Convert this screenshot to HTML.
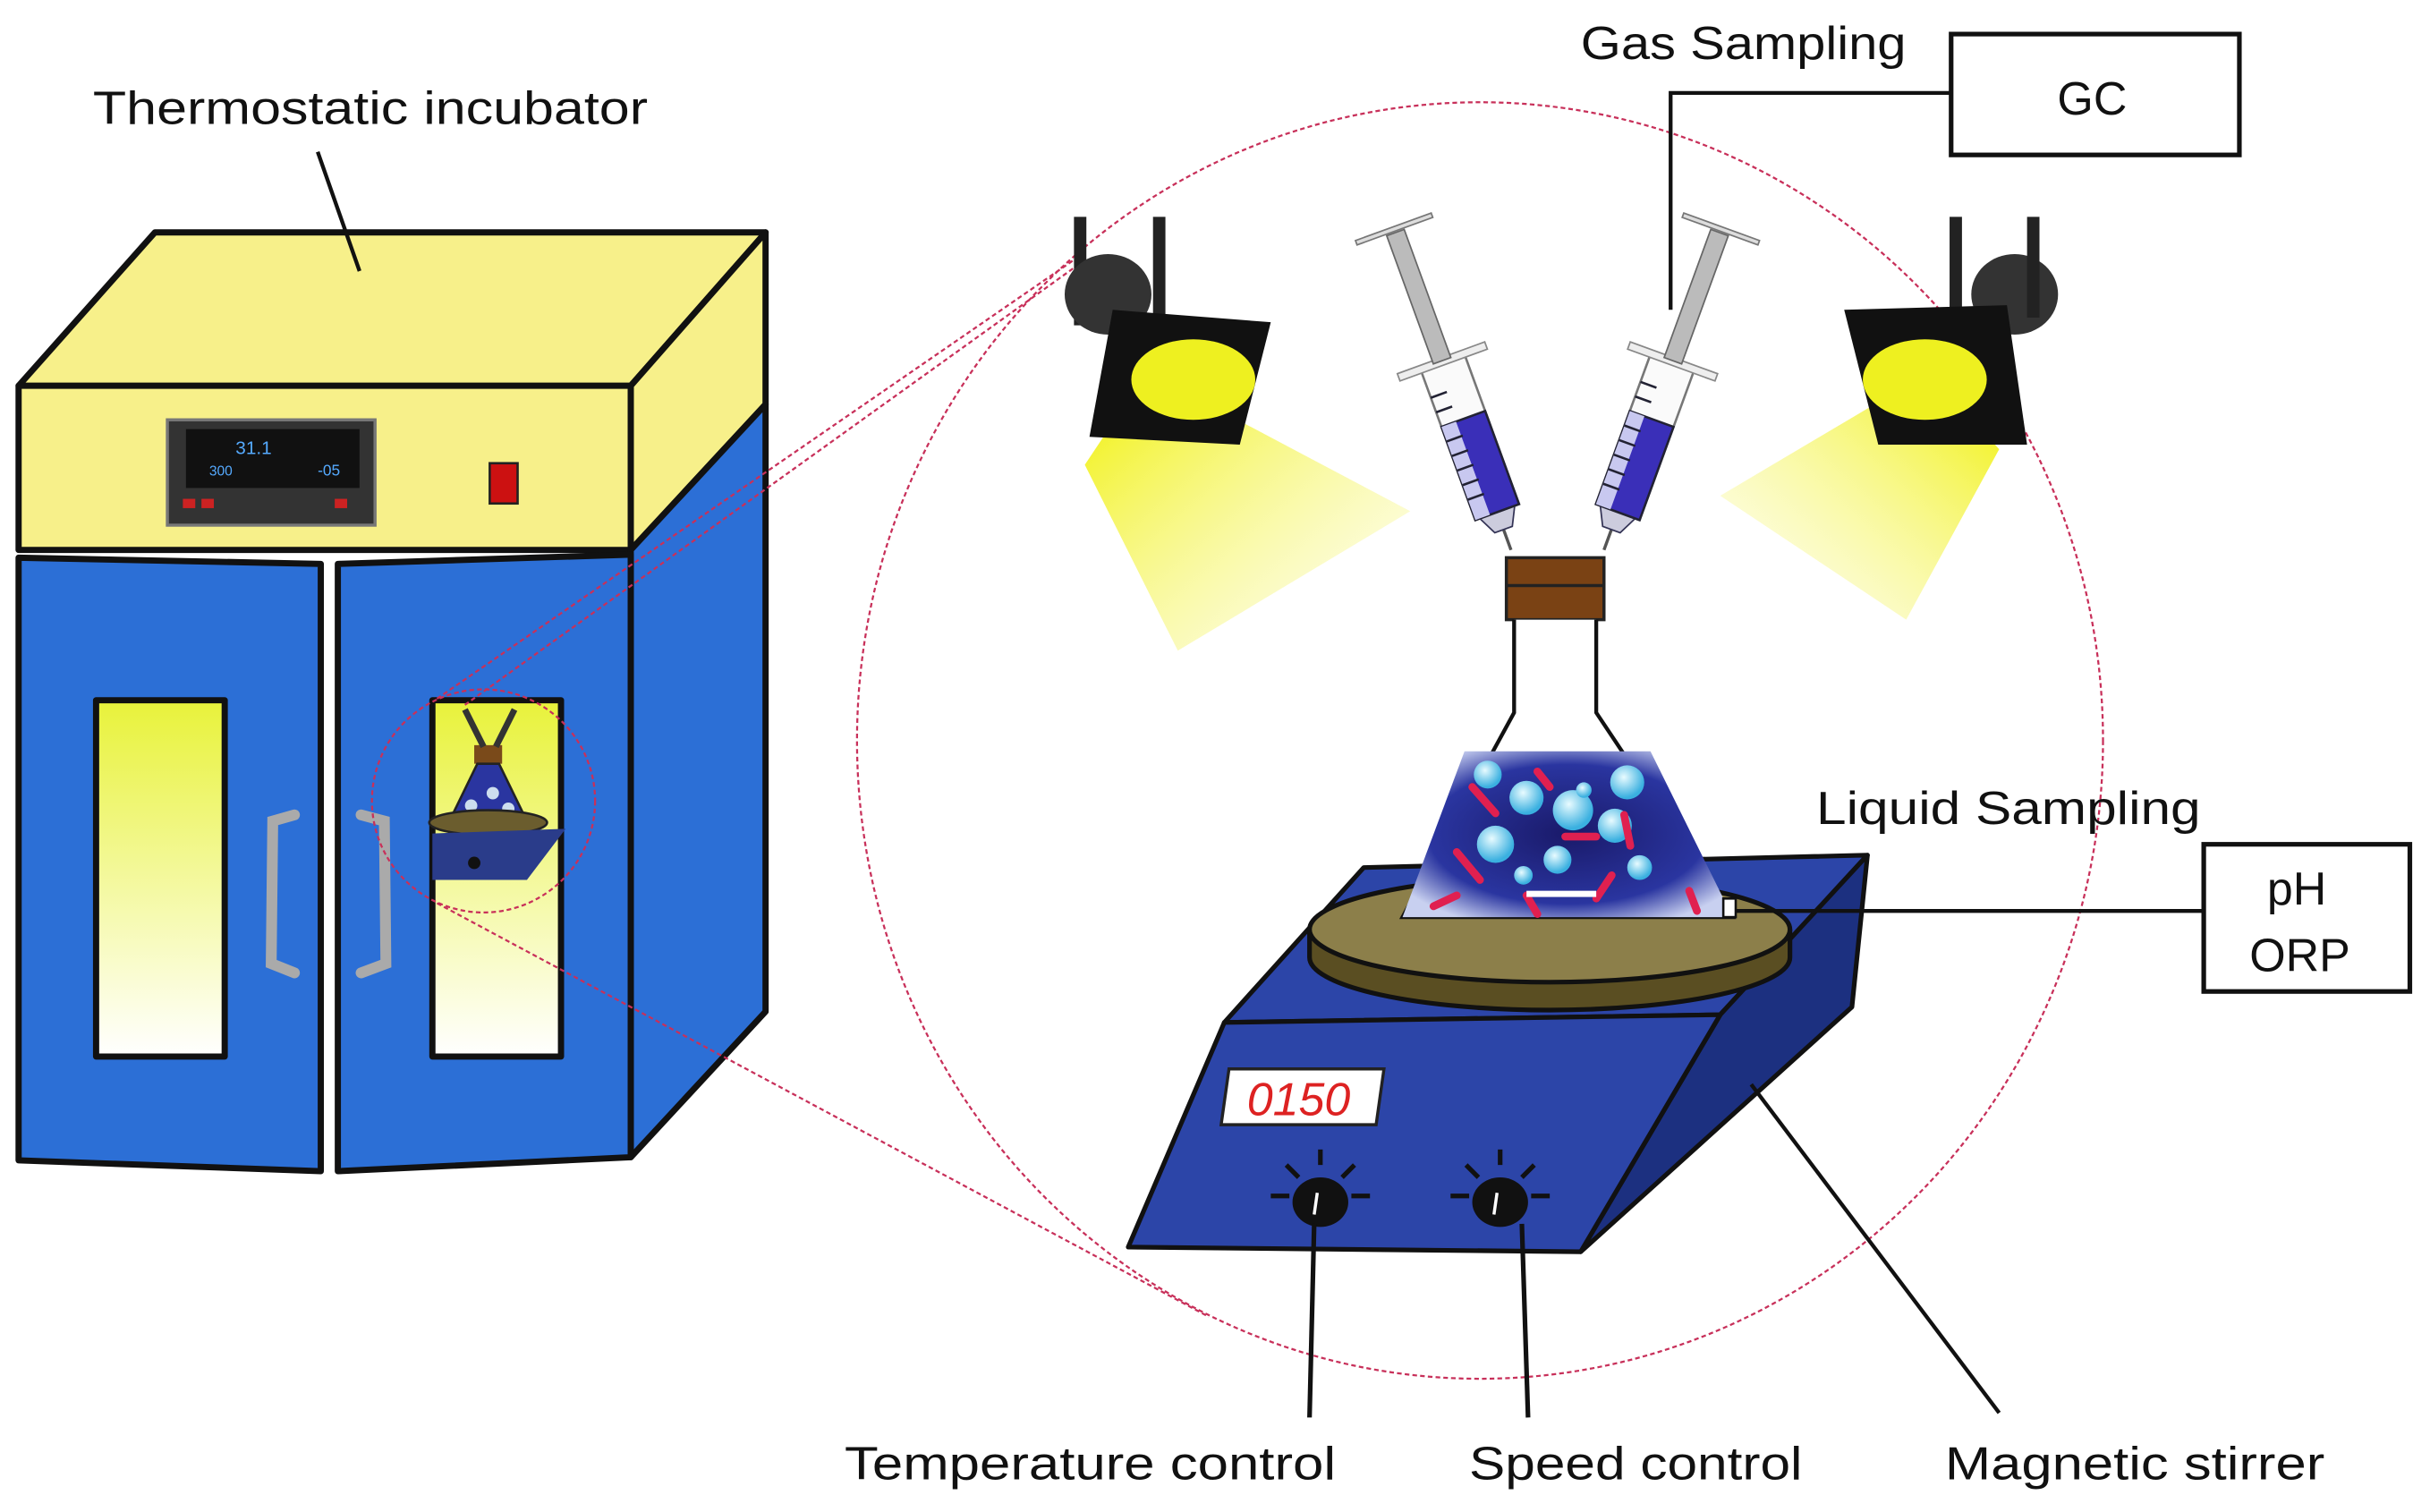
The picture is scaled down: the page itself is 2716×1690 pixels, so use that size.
<!DOCTYPE html>
<html><head><meta charset="utf-8"><style>
html,body{margin:0;padding:0;background:#fff;}
svg{display:block;}
text{font-family:"Liberation Sans","DejaVu Sans",sans-serif;fill:#111;}
</style></head><body>
<svg width="2716" height="1690" viewBox="0 0 1568 976" preserveAspectRatio="none" xmlns="http://www.w3.org/2000/svg">
<defs>
<linearGradient id="win" x1="0" y1="0" x2="0" y2="1"><stop offset="0" stop-color="#e8f23a"/><stop offset="1" stop-color="#ffffff"/></linearGradient>
<linearGradient id="beamL" x1="0" y1="0" x2="1" y2="1"><stop offset="0" stop-color="#f0f000"/><stop offset="1" stop-color="#fbfbd0" stop-opacity="0.3"/></linearGradient>
<linearGradient id="beamR" x1="1" y1="0" x2="0" y2="1"><stop offset="0" stop-color="#f0f000"/><stop offset="1" stop-color="#fbfbd0" stop-opacity="0.3"/></linearGradient>
<radialGradient id="liq" cx="0.5" cy="0.5" r="0.6"><stop offset="0" stop-color="#1a1a6a"/><stop offset="0.7" stop-color="#2a35a0"/><stop offset="1" stop-color="#c8d0f0"/></radialGradient>
<radialGradient id="bub" cx="0.4" cy="0.35" r="0.6"><stop offset="0" stop-color="#e8fbff"/><stop offset="1" stop-color="#3ab0e0"/></radialGradient>
<g id="syr">
<line x1="0" y1="0" x2="0" y2="-14" stroke="#555" stroke-width="2"/>
<path d="M-6,-14 L6,-14 L12,-26 L-12,-26 Z" fill="#ccd" stroke="#335" stroke-width="1"/>
<rect x="-15" y="-128" width="30" height="102" fill="#fafafa" stroke="#777" stroke-width="1.5"/>
<rect x="-15" y="-90" width="30" height="64" fill="#3a2fb8" stroke="#223" stroke-width="1.5"/>
<rect x="-15" y="-90" width="10" height="64" fill="#c8c8f0"/>
<g stroke="#223" stroke-width="1.5"><line x1="-15" y1="-80" x2="-4" y2="-80"/><line x1="-15" y1="-70" x2="-4" y2="-70"/><line x1="-15" y1="-60" x2="-4" y2="-60"/><line x1="-15" y1="-50" x2="-4" y2="-50"/><line x1="-15" y1="-40" x2="-4" y2="-40"/><line x1="-15" y1="-110" x2="-4" y2="-110"/><line x1="-15" y1="-100" x2="-4" y2="-100"/></g>
<rect x="-30" y="-132" width="60" height="5" fill="#eee" stroke="#888" stroke-width="1"/>
<rect x="-6" y="-218" width="12" height="88" fill="#bbb" stroke="#666" stroke-width="1"/>
<rect x="-26" y="-222" width="52" height="3" fill="#ddd" stroke="#777" stroke-width="1"/>
</g>
</defs>

<!-- Incubator -->
<text x="60" y="80" font-size="30" textLength="358" lengthAdjust="spacingAndGlyphs">Thermostatic incubator</text>
<g stroke="#111" stroke-width="4" stroke-linejoin="round">
<polygon points="12,249 100,150 494,150 407,249" fill="#f7f08a"/>
<polygon points="407,249 494,150 494,261 407,355" fill="#f7f08a"/>
<rect x="12" y="249" width="395" height="106" fill="#f7f08a"/>
<polygon points="407,355 494,261 494,653 407,747" fill="#2c6fd6"/>
<polygon points="12,360 207,364 207,756 12,749" fill="#2c6fd6"/>
<polygon points="218,364 407,358 407,747 218,756" fill="#2c6fd6"/>
<rect x="62" y="452" width="83" height="230" fill="url(#win)"/>
<rect x="279" y="452" width="83" height="230" fill="url(#win)"/>
</g>
<line x1="205" y1="98" x2="232" y2="175" stroke="#111" stroke-width="2.5"/>
<rect x="108" y="271" width="134" height="68" fill="#333" stroke="#777" stroke-width="2"/>
<rect x="120" y="277" width="112" height="38" fill="#111"/>
<text x="152" y="293" font-size="12" style="fill:#5af">31.1</text>
<text x="135" y="307" font-size="9" style="fill:#5af">300</text>
<text x="205" y="307" font-size="10" style="fill:#5af">-05</text>
<rect x="118" y="322" width="8" height="6" fill="#c22"/><rect x="130" y="322" width="8" height="6" fill="#c22"/><rect x="216" y="322" width="8" height="6" fill="#c22"/>
<rect x="316" y="299" width="18" height="26" fill="#c11" stroke="#222" stroke-width="1.5"/>
<g fill="none" stroke="#aaa" stroke-width="7" stroke-linecap="round">
<path d="M190,526 L176,530 L175,622 L190,628"/>
<path d="M233,526 L248,530 L249,622 L233,628"/>
</g>
<!-- mini scene in window -->
<rect x="306" y="481" width="18" height="12" fill="#7a4a1a"/>
<line x1="300" y1="458" x2="312" y2="482" stroke="#333" stroke-width="4"/>
<line x1="332" y1="458" x2="320" y2="482" stroke="#333" stroke-width="4"/>
<polygon points="308,493 322,493 340,530 290,530" fill="#2a35a0" stroke="#222" stroke-width="1.5"/>
<circle cx="304" cy="520" r="4" fill="#cde"/><circle cx="318" cy="512" r="4" fill="#cde"/><circle cx="328" cy="522" r="4" fill="#cde"/>
<ellipse cx="315" cy="531" rx="38" ry="8" fill="#6b5d2e" stroke="#222" stroke-width="1.5"/>
<polygon points="279,538 365,535 340,568 279,568" fill="#2a3c8a"/>
<circle cx="306" cy="557" r="4" fill="#111"/>

<!-- big dashed circle & zoom lines -->
<g fill="none" stroke="#c8305a" stroke-width="1.3" stroke-dasharray="3,2">
<ellipse cx="955" cy="478" rx="402" ry="412"/>
<circle cx="312" cy="517" r="72"/>
<line x1="282" y1="451" x2="697" y2="165"/>
<line x1="300" y1="455" x2="697" y2="170"/>
<line x1="282" y1="583" x2="780" y2="850"/>
</g>

<!-- Gas sampling -->
<text x="1020" y="38" font-size="30" textLength="210" lengthAdjust="spacingAndGlyphs">Gas Sampling</text>
<rect x="1259" y="22" width="186" height="78" fill="#fff" stroke="#111" stroke-width="3"/>
<text x="1350" y="74" font-size="30" text-anchor="middle">GC</text>
<polyline points="1259,60 1078,60 1078,200" fill="none" stroke="#111" stroke-width="2.5"/>

<!-- Lamps -->
<polygon points="740,240 700,300 760,420 910,330" fill="url(#beamL)"/>
<line x1="697" y1="140" x2="697" y2="210" stroke="#222" stroke-width="8"/>
<ellipse cx="715" cy="190" rx="28" ry="26" fill="#333"/>
<line x1="748" y1="140" x2="748" y2="205" stroke="#222" stroke-width="8"/>
<polygon points="718,200 820,208 800,287 703,282" fill="#111"/>
<ellipse cx="770" cy="245" rx="40" ry="26" fill="#eef020"/>

<polygon points="1245,240 1290,290 1230,400 1110,320" fill="url(#beamR)"/>
<line x1="1262" y1="140" x2="1262" y2="210" stroke="#222" stroke-width="8"/>
<ellipse cx="1300" cy="190" rx="28" ry="26" fill="#333"/>
<line x1="1312" y1="140" x2="1312" y2="205" stroke="#222" stroke-width="8"/>
<polygon points="1190,200 1295,197 1308,287 1212,287" fill="#111"/>
<ellipse cx="1242" cy="245" rx="40" ry="26" fill="#eef020"/>

<!-- Syringes -->
<use href="#syr" transform="translate(975,355) rotate(-20)"/>
<use href="#syr" transform="translate(1035,355) rotate(20)"/>

<!-- Stirrer body -->
<g stroke="#111" stroke-width="3" stroke-linejoin="round">
<polygon points="880,560 1205,552 1110,655 790,660" fill="#2c45a8"/>
<polygon points="1110,655 1205,552 1195,650 1020,808" fill="#1c3080"/>
<polygon points="790,660 1110,655 1020,808 728,805" fill="#2c45a8"/>
</g>
<rect x="790" y="690" width="100" height="36" fill="#fff" stroke="#222" stroke-width="2" transform="skewX(-8) translate(100,0)"/>
<text x="838" y="720" font-size="30" text-anchor="middle" font-style="italic" style="fill:#d22">0150</text>
<g stroke="#111" stroke-width="3">
<line x1="820" y1="772" x2="832" y2="772"/><line x1="830" y1="752" x2="838" y2="760"/><line x1="852" y1="742" x2="852" y2="752"/><line x1="874" y1="752" x2="866" y2="760"/><line x1="884" y1="772" x2="872" y2="772"/>
<line x1="936" y1="772" x2="948" y2="772"/><line x1="946" y1="752" x2="954" y2="760"/><line x1="968" y1="742" x2="968" y2="752"/><line x1="990" y1="752" x2="982" y2="760"/><line x1="1000" y1="772" x2="988" y2="772"/>
</g>
<ellipse cx="852" cy="776" rx="18" ry="16" fill="#111"/>
<ellipse cx="968" cy="776" rx="18" ry="16" fill="#111"/>
<line x1="850" y1="770" x2="848" y2="784" stroke="#fff" stroke-width="2"/>
<line x1="966" y1="770" x2="964" y2="784" stroke="#fff" stroke-width="2"/>
<line x1="848" y1="790" x2="845" y2="915" stroke="#111" stroke-width="3"/>
<line x1="982" y1="790" x2="986" y2="915" stroke="#111" stroke-width="3"/>
<line x1="1130" y1="700" x2="1290" y2="912" stroke="#111" stroke-width="2.5"/>

<!-- Plate -->
<g stroke="#111" stroke-width="3">
<path d="M845,600 L845,618 A155,34 0 0 0 1155,618 L1155,600" fill="#5a4e22"/>
<ellipse cx="1000" cy="600" rx="155" ry="34" fill="#8c7f4a"/>
</g>

<!-- Flask -->
<rect x="972" y="360" width="63" height="40" fill="#7a4214" stroke="#222" stroke-width="2"/>
<line x1="972" y1="378" x2="1035" y2="378" stroke="#222" stroke-width="2"/>
<path d="M977,400 L977,460 L905,592 L1118,592 L1030,460 L1030,400" fill="#fff" stroke="#111" stroke-width="2.5"/>
<polygon points="945,485 1065,485 1118,592 905,592" fill="url(#liq)"/>
<g fill="url(#bub)">
<circle cx="960" cy="500" r="9"/><circle cx="985" cy="515" r="11"/><circle cx="1015" cy="523" r="13"/><circle cx="1050" cy="505" r="11"/><circle cx="1042" cy="533" r="11"/><circle cx="965" cy="545" r="12"/><circle cx="1005" cy="555" r="9"/><circle cx="1058" cy="560" r="8"/><circle cx="983" cy="565" r="6"/><circle cx="1022" cy="510" r="5"/>
</g>
<g stroke="#e02050" stroke-width="5" stroke-linecap="round" fill="none">
<path d="M950,508 L965,525"/><path d="M992,498 L1000,508"/><path d="M1048,526 L1052,546"/><path d="M940,550 L955,568"/><path d="M925,585 L940,578"/><path d="M985,578 L992,590"/><path d="M1030,580 L1040,565"/><path d="M1090,575 L1095,588"/><path d="M1010,540 L1030,540"/>
</g>
<rect x="985" y="575" width="45" height="4" fill="#fff"/>
<rect x="1112" y="580" width="8" height="12" fill="#fff" stroke="#111" stroke-width="1.5"/>

<!-- Liquid sampling -->
<text x="1172" y="532" font-size="30" textLength="248" lengthAdjust="spacingAndGlyphs">Liquid Sampling</text>
<line x1="1120" y1="588" x2="1422" y2="588" stroke="#111" stroke-width="2.5"/>
<rect x="1422" y="545" width="133" height="95" fill="#fff" stroke="#111" stroke-width="3"/>
<text x="1482" y="584" font-size="30" text-anchor="middle">pH</text>
<text x="1484" y="627" font-size="30" text-anchor="middle">ORP</text>

<!-- bottom labels -->
<text x="545" y="955" font-size="30" textLength="317" lengthAdjust="spacingAndGlyphs">Temperature control</text>
<text x="948" y="955" font-size="30" textLength="215" lengthAdjust="spacingAndGlyphs">Speed control</text>
<text x="1255" y="955" font-size="30" textLength="245" lengthAdjust="spacingAndGlyphs">Magnetic stirrer</text>
</svg>
</body></html>
